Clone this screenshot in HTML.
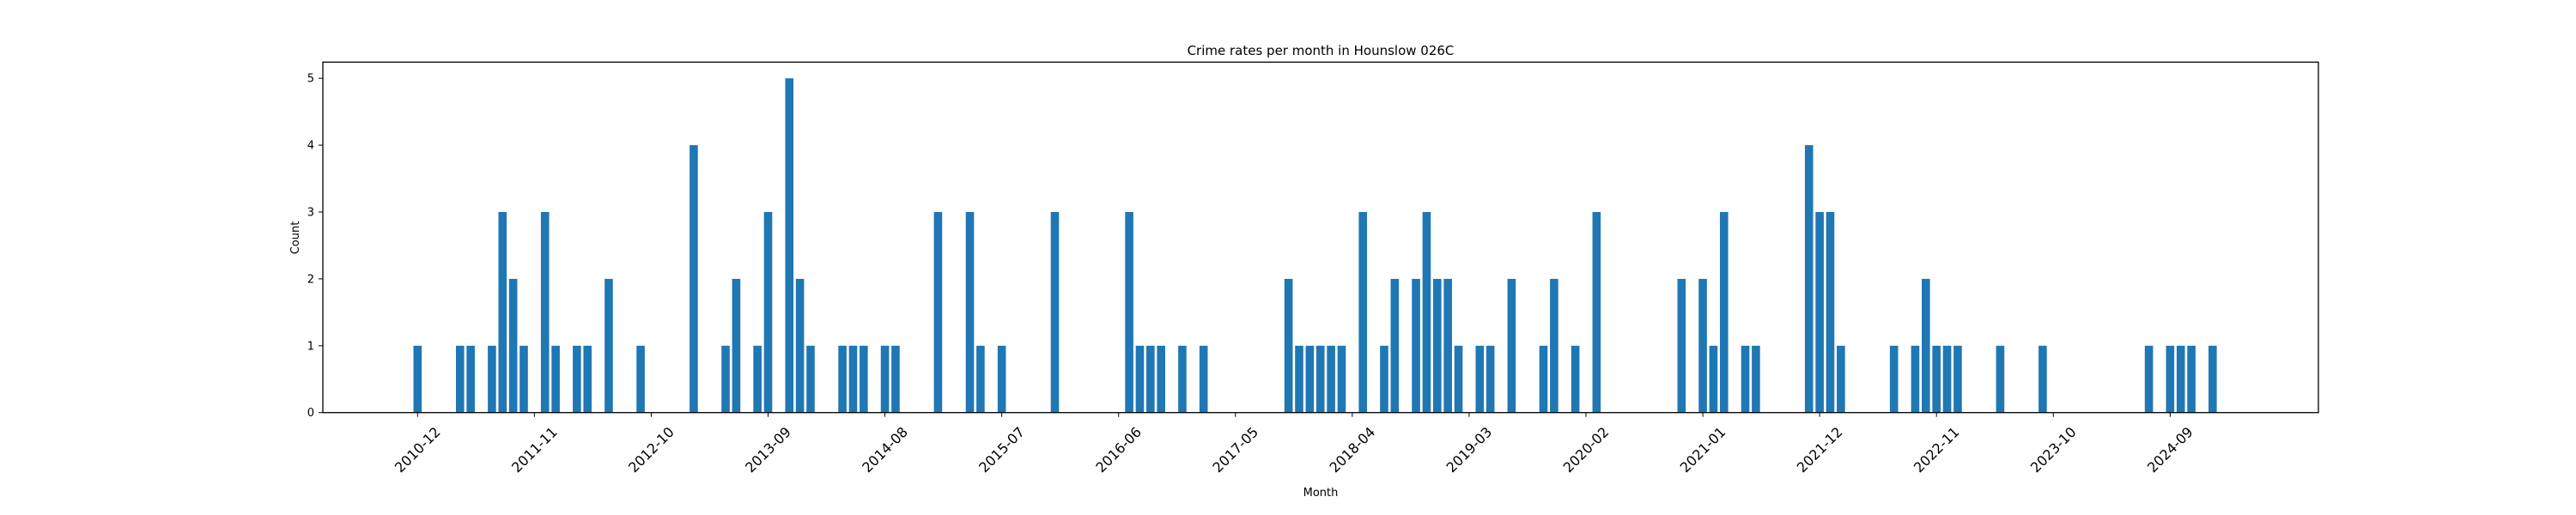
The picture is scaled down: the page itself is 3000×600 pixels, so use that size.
<!DOCTYPE html>
<html><head><meta charset="utf-8"><style>
html,body{margin:0;padding:0;background:#fff;}
svg{display:block;font-family:"DejaVu Sans","Liberation Sans",sans-serif;}
</style></head><body>
<svg id="chart" width="3000" height="600" viewBox="0 0 3000 600" xmlns="http://www.w3.org/2000/svg">
<rect width="3000" height="600" fill="#fff"/>
<text x="1538" y="64" font-size="15" text-anchor="middle" fill="#000">Crime rates per month in Hounslow 026C</text>
<g id="bars"></g>
<g id="xaxis"></g>
<g id="yaxis"></g>
<rect x="376" y="72.4" width="2324" height="408.3" fill="none" stroke="#000" stroke-width="1.3"/>
<text x="1538" y="578" font-size="13" text-anchor="middle">Month</text>
<text x="0" y="0" font-size="13" text-anchor="middle" transform="translate(348,277) rotate(-90)">Count</text>
</svg>
<script>
// month offsets from 2010-12 and counts
const monthIndex = [0,4,5,7,8,9,10,12,13,15,16,18,21,26,29,30,32,33,35,36,37,40,41,42,44,45,49,52,53,55,60,67,68,69,70,72,74,82,83,84,85,86,87,89,91,92,94,95,96,97,98,100,101,103,106,107,109,111,119,121,122,123,125,126,131,132,133,134,139,141,142,143,144,145,149,153,163,165,166,167,169];
const counts = [1,1,1,1,3,2,1,3,1,1,1,2,1,4,1,2,1,3,5,2,1,1,1,1,1,1,3,3,1,1,3,3,1,1,1,1,1,2,1,1,1,1,1,3,1,2,2,3,2,2,1,1,1,2,1,2,1,3,2,2,1,3,1,1,4,3,3,1,1,1,2,1,1,1,1,1,1,1,1,1,1];
const tickMonths = [0,11,22,33,44,55,66,77,88,99,110,121,132,143,154,165];
const tickLabels = ["2010-12","2011-11","2012-10","2013-09","2014-08","2015-07","2016-06","2017-05","2018-04","2019-03","2020-02","2021-01","2021-12","2022-11","2023-10","2024-09"];
const yTicks = [0,1,2,3,4,5];

const NS = "http://www.w3.org/2000/svg";
const X0 = 486.3, PX = 12.37;
const Y0 = 480.7, PY = 77.9;
const xs = m => X0 + m * PX;
const ys = v => Y0 - v * PY;
const bw = 9.6;

const bars = document.getElementById('bars');
monthIndex.forEach((m, i) => {
  const r = document.createElementNS(NS, 'rect');
  r.setAttribute('x', xs(m) - bw / 2);
  r.setAttribute('y', ys(counts[i]));
  r.setAttribute('width', bw);
  r.setAttribute('height', Y0 - ys(counts[i]));
  r.setAttribute('fill', '#1f77b4');
  
  
  bars.appendChild(r);
});

const xa = document.getElementById('xaxis');
tickMonths.forEach((m, i) => {
  const x = xs(m);
  const l = document.createElementNS(NS, 'line');
  l.setAttribute('x1', x); l.setAttribute('x2', x);
  l.setAttribute('y1', Y0); l.setAttribute('y2', Y0 + 5);
  l.setAttribute('stroke', '#000'); l.setAttribute('stroke-width', '1');
  
  
  xa.appendChild(l);
  const t = document.createElementNS(NS, 'text');
  t.setAttribute('x', 0); t.setAttribute('y', 0);
  t.setAttribute('font-size', '16');
  t.setAttribute('text-anchor', 'middle');
  t.setAttribute('dominant-baseline', 'central');
  t.setAttribute('transform', 'translate(' + x + ',524) rotate(-45)');
  t.textContent = tickLabels[i];
  
  
  xa.appendChild(t);
});

const ya = document.getElementById('yaxis');
yTicks.forEach(v => {
  const y = ys(v);
  const l = document.createElementNS(NS, 'line');
  l.setAttribute('x1', 371); l.setAttribute('x2', 376);
  l.setAttribute('y1', y); l.setAttribute('y2', y);
  l.setAttribute('stroke', '#000'); l.setAttribute('stroke-width', '1');
  
  
  ya.appendChild(l);
  const t = document.createElementNS(NS, 'text');
  t.setAttribute('x', 366); t.setAttribute('y', y + 4.5);
  t.setAttribute('font-size', '13');
  t.setAttribute('text-anchor', 'end');
  t.textContent = v;
  
  
  ya.appendChild(t);
});
</script>
</body></html>
